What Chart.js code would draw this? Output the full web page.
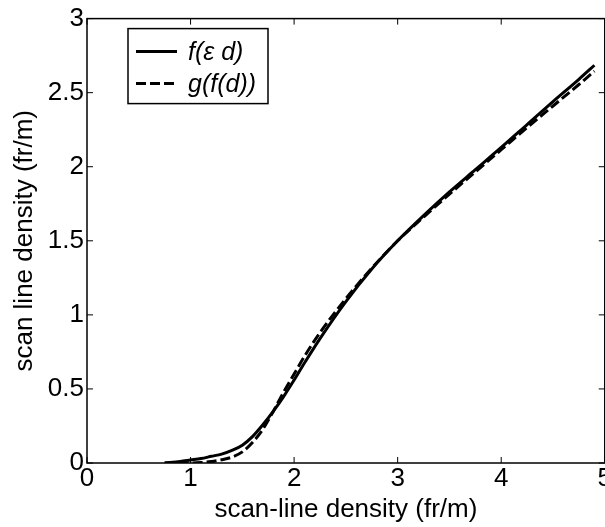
<!DOCTYPE html>
<html>
<head>
<meta charset="utf-8">
<script src="https://cdn.jsdelivr.net/npm/chart.js@4.4.1/dist/chart.umd.min.js"></script>
<style>
  html, body { margin: 0; padding: 0; background: #fff; overflow: hidden; }
  #wrap { width: 612px; height: 527px; position: relative; }
</style>
</head>
<body>
<div id="wrap"><canvas id="chart"></canvas></div>
<script>
// values
const fX = [0.75, 0.9, 1.0, 1.1, 1.2, 1.3, 1.4, 1.5, 1.6, 1.7, 1.8, 1.9, 2.0, 2.1, 2.25, 2.5, 2.75, 3.0, 3.25, 3.5, 3.75, 4.0, 4.25, 4.5, 4.75, 4.9];
const fY = [0, 0.01, 0.02, 0.03, 0.045, 0.06, 0.085, 0.12, 0.18, 0.26, 0.35, 0.45, 0.56, 0.675, 0.84, 1.09, 1.31, 1.5, 1.67, 1.83, 1.98, 2.13, 2.285, 2.44, 2.59, 2.685];

const gX = [0.75, 0.9, 1.0, 1.1, 1.2, 1.3, 1.4, 1.5, 1.6, 1.7, 1.8, 1.9, 2.0, 2.1, 2.25, 2.5, 2.75, 3.0, 3.25, 3.5, 3.75, 4.0, 4.25, 4.5, 4.75, 4.9];
const gY = [0, 0, 0, 0.003, 0.01, 0.022, 0.04, 0.075, 0.14, 0.23, 0.35, 0.48, 0.6, 0.72, 0.88, 1.11, 1.315, 1.5, 1.66, 1.815, 1.965, 2.115, 2.265, 2.41, 2.555, 2.645];

const xTicks = [0, 1, 2, 3, 4, 5];
const yTicks = [0, 0.5, 1, 1.5, 2, 2.5, 3];
const legendLabels = ["f(\u03b5 d)", "g(f(d))"];

const FONT = "'Liberation Sans', Arial, sans-serif";
const FS = 26;

const toPoints = (xs, ys) => xs.map((x, i) => ({ x: x, y: ys[i] }));

// box, inward ticks and the legend, MATLAB style
const framePlugin = {
  id: "frame",
  afterDraw(chart) {
    const ctx = chart.ctx;
    const a = chart.chartArea;
    const xs = chart.scales.x;
    const ys = chart.scales.y;
    const tl = 6;
    ctx.save();
    ctx.strokeStyle = "#000";
    ctx.lineWidth = 1.5;
    ctx.strokeRect(a.left, a.top, a.right - a.left, a.bottom - a.top);
    ctx.lineWidth = 1;
    ctx.beginPath();
    xTicks.forEach((t) => {
      const px = xs.getPixelForValue(t);
      ctx.moveTo(px, a.bottom);
      ctx.lineTo(px, a.bottom - tl);
      ctx.moveTo(px, a.top);
      ctx.lineTo(px, a.top + tl);
    });
    yTicks.forEach((t) => {
      const py = ys.getPixelForValue(t);
      ctx.moveTo(a.left, py);
      ctx.lineTo(a.left + tl, py);
      ctx.moveTo(a.right, py);
      ctx.lineTo(a.right - tl, py);
    });
    ctx.stroke();

    // legend
    const lx = a.left + 41, ly = a.top + 10, lw = 140, lh = 75;
    ctx.fillStyle = "#fff";
    ctx.fillRect(lx, ly, lw, lh);
    ctx.lineWidth = 1.5;
    ctx.strokeRect(lx, ly, lw, lh);
    ctx.font = "italic 25px " + FONT;
    ctx.textBaseline = "middle";
    ctx.fillStyle = "#000";
    chart.data.datasets.forEach((ds, i) => {
      const yy = ly + 23 + i * 32;
      ctx.lineWidth = 3;
      ctx.setLineDash(ds.borderDash || []);
      ctx.beginPath();
      ctx.moveTo(lx + 8, yy);
      ctx.lineTo(lx + 49, yy);
      ctx.stroke();
      ctx.setLineDash([]);
      ctx.fillText(legendLabels[i], lx + 60, yy + 1);
    });
    ctx.restore();
  },
};

new Chart(document.getElementById("chart"), {
  type: "line",
  data: {
    datasets: [
      {
        label: legendLabels[0],
        data: toPoints(fX, fY),
        borderColor: "#000",
        borderWidth: 3,
        pointRadius: 0,
        fill: false,
        cubicInterpolationMode: "monotone",
      },
      {
        label: legendLabels[1],
        data: toPoints(gX, gY),
        borderColor: "#000",
        borderWidth: 3,
        borderDash: [10, 4],
        pointRadius: 0,
        fill: false,
        cubicInterpolationMode: "monotone",
      },
    ],
  },
  options: {
    responsive: true,
    maintainAspectRatio: false,
    animation: false,
    layout: { padding: { top: 17, right: 0, left: 0, bottom: 0 } },
    plugins: {
      legend: { display: false },
      tooltip: { enabled: false },
    },
    scales: {
      x: {
        type: "linear",
        min: 0,
        max: 5,
        afterBuildTicks: (s) => { s.ticks = xTicks.map((v) => ({ value: v })); },
        afterFit: (s) => { s.height = 64; },
        grid: { display: false, drawTicks: false },
        border: { display: false },
        ticks: { color: "#000", padding: 0, font: { family: FONT, size: FS }, maxRotation: 0 },
        title: {
          display: true,
          text: "scan-line density (fr/m)",
          color: "#000",
          font: { family: FONT, size: FS },
          padding: { top: 0, bottom: 2 },
        },
      },
      y: {
        type: "linear",
        min: 0,
        max: 3,
        afterBuildTicks: (s) => { s.ticks = yTicks.map((v) => ({ value: v })); },
        afterFit: (s) => { s.width = 87; },
        grid: { display: false, drawTicks: false },
        border: { display: false },
        ticks: {
          color: "#000",
          padding: 3,
          font: { family: FONT, size: FS },
          callback: (v) => String(v),
        },
        title: {
          display: true,
          text: "scan line density (fr/m)",
          color: "#000",
          font: { family: FONT, size: FS },
          padding: { top: 9, bottom: 0 },
        },
      },
    },
  },
  plugins: [framePlugin],
});
</script>
</body>
</html>
